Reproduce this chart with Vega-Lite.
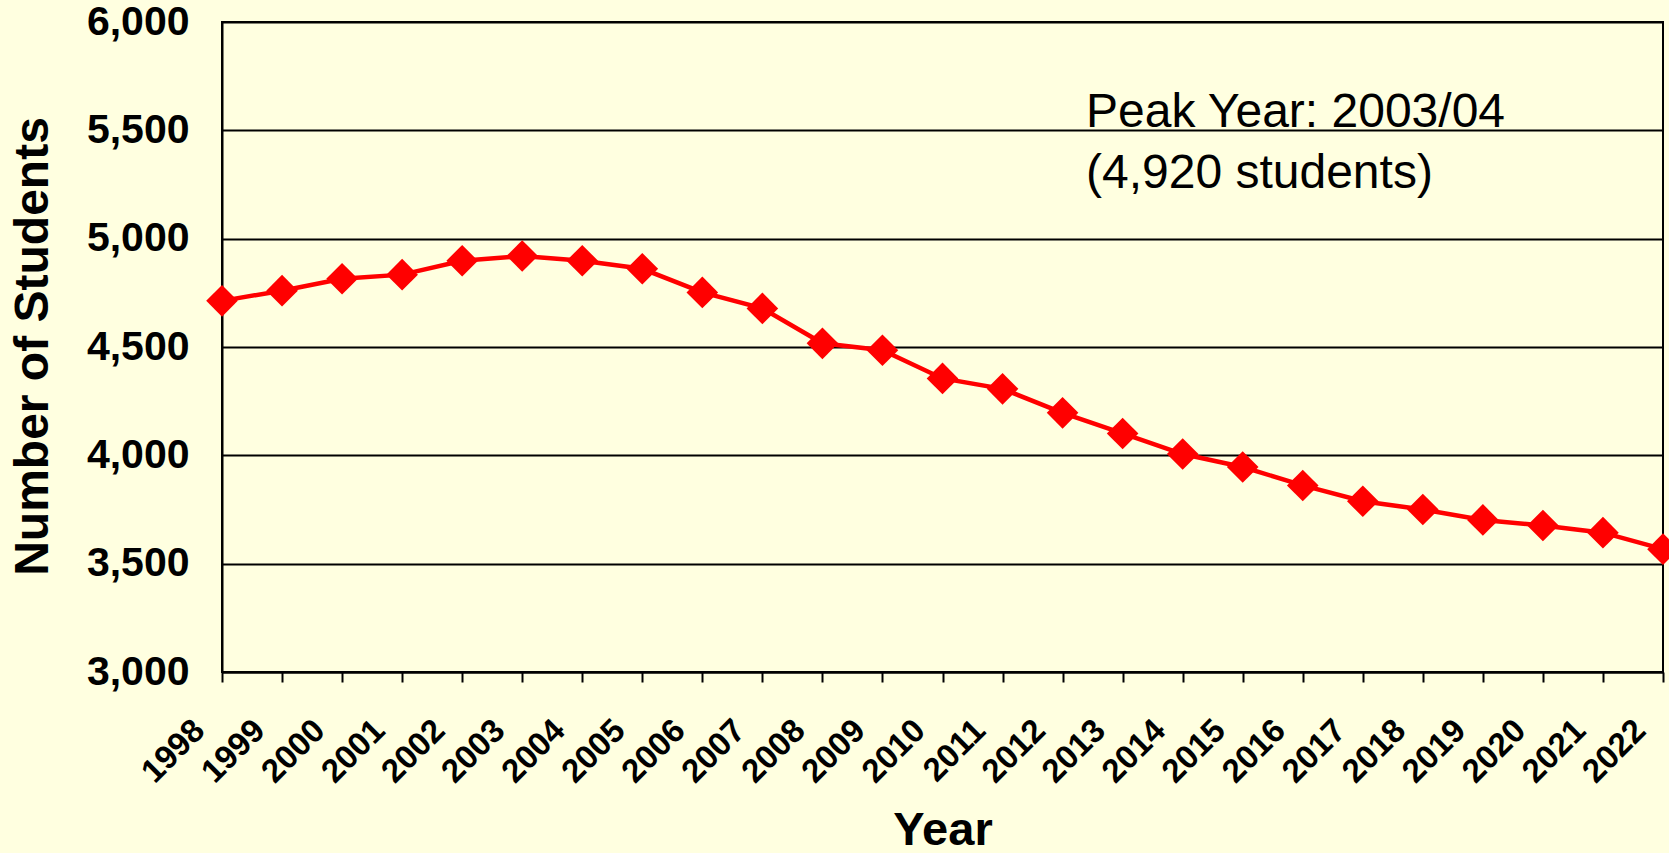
{
  "$schema": "https://vega.github.io/schema/vega-lite/v6.json",
  "width": 1441,
  "height": 650,
  "autosize": {"type": "none"},
  "padding": {"left": 222, "top": 22, "right": 6, "bottom": 181},
  "background": "#FFFFE0",
  "config": {
    "view": {"stroke": "black", "strokeWidth": 2, "fill": "#FFFFE0"},
    "font": "Liberation Sans"
  },
  "datasets": {
    "enrol": [
      {"year": 1998, "students": 4713},
      {"year": 1999, "students": 4760},
      {"year": 2000, "students": 4815},
      {"year": 2001, "students": 4834},
      {"year": 2002, "students": 4898},
      {"year": 2003, "students": 4920},
      {"year": 2004, "students": 4898},
      {"year": 2005, "students": 4861},
      {"year": 2006, "students": 4752},
      {"year": 2007, "students": 4678},
      {"year": 2008, "students": 4517},
      {"year": 2009, "students": 4485},
      {"year": 2010, "students": 4355},
      {"year": 2011, "students": 4307},
      {"year": 2012, "students": 4196},
      {"year": 2013, "students": 4101},
      {"year": 2014, "students": 4006},
      {"year": 2015, "students": 3946},
      {"year": 2016, "students": 3861},
      {"year": 2017, "students": 3788},
      {"year": 2018, "students": 3750},
      {"year": 2019, "students": 3702},
      {"year": 2020, "students": 3676},
      {"year": 2021, "students": 3643},
      {"year": 2022, "students": 3567}
    ],
    "note": [
      {"year": 2012.39, "students": 5516, "label": "Peak Year: 2003/04"},
      {"year": 2012.39, "students": 5233, "label": "(4,920 students)"}
    ]
  },
  "layer": [
    {
      "data": {"name": "enrol"},
      "mark": {
        "type": "line",
        "color": "#FF0000",
        "strokeWidth": 4.5,
        "point": {"shape": "diamond", "size": 1000, "filled": true, "color": "#FF0000", "opacity": 1}
      },
      "encoding": {
        "x": {
          "field": "year",
          "type": "quantitative",
          "scale": {"domain": [1998, 2022], "nice": false, "zero": false},
          "axis": {
            "values": [1998,1999,2000,2001,2002,2003,2004,2005,2006,2007,2008,2009,2010,2011,2012,2013,2014,2015,2016,2017,2018,2019,2020,2021,2022],
            "format": "d",
            "labelAngle": -45,
            "labelAlign": "right",
            "labelBaseline": "middle",
            "labelFontSize": 33,
            "labelFontWeight": "bold",
            "labelColor": "black",
            "labelPadding": 43,
            "labelOffset": -23,
            "labelFlush": false,
            "labelOverlap": false,
            "tickSize": 10,
            "tickWidth": 2,
            "tickColor": "black",
            "domainColor": "black",
            "domainWidth": 2,
            "grid": false,
            "title": "Year",
            "titleFontSize": 47,
            "titleFontWeight": "bold",
            "titleColor": "black",
            "titleBaseline": "alphabetic",
            "titleY": 172
          }
        },
        "y": {
          "field": "students",
          "type": "quantitative",
          "scale": {"domain": [3000, 6000], "nice": false, "zero": false},
          "axis": {
            "values": [3000, 3500, 4000, 4500, 5000, 5500, 6000],
            "format": ",.0f",
            "labelFontSize": 41,
            "labelFontWeight": "bold",
            "labelColor": "black",
            "labelPadding": 33,
            "labelFlush": false,
            "ticks": false,
            "tickSize": 0,
            "grid": true,
            "gridColor": "black",
            "gridWidth": 2,
            "gridOpacity": 1,
            "domainColor": "black",
            "domainWidth": 2,
            "title": "Number of Students",
            "titleFontSize": 48,
            "titleFontWeight": "bold",
            "titleColor": "black",
            "titleAngle": -90,
            "titleAlign": "center",
            "titleBaseline": "alphabetic",
            "titleX": -175,
            "titleY": 324
          }
        }
      }
    },
    {
      "data": {"name": "note"},
      "mark": {"type": "text", "align": "left", "baseline": "alphabetic", "fontSize": 48, "font": "Liberation Sans", "color": "black"},
      "encoding": {
        "x": {"field": "year", "type": "quantitative"},
        "y": {"field": "students", "type": "quantitative"},
        "text": {"field": "label"}
      }
    }
  ]
}
